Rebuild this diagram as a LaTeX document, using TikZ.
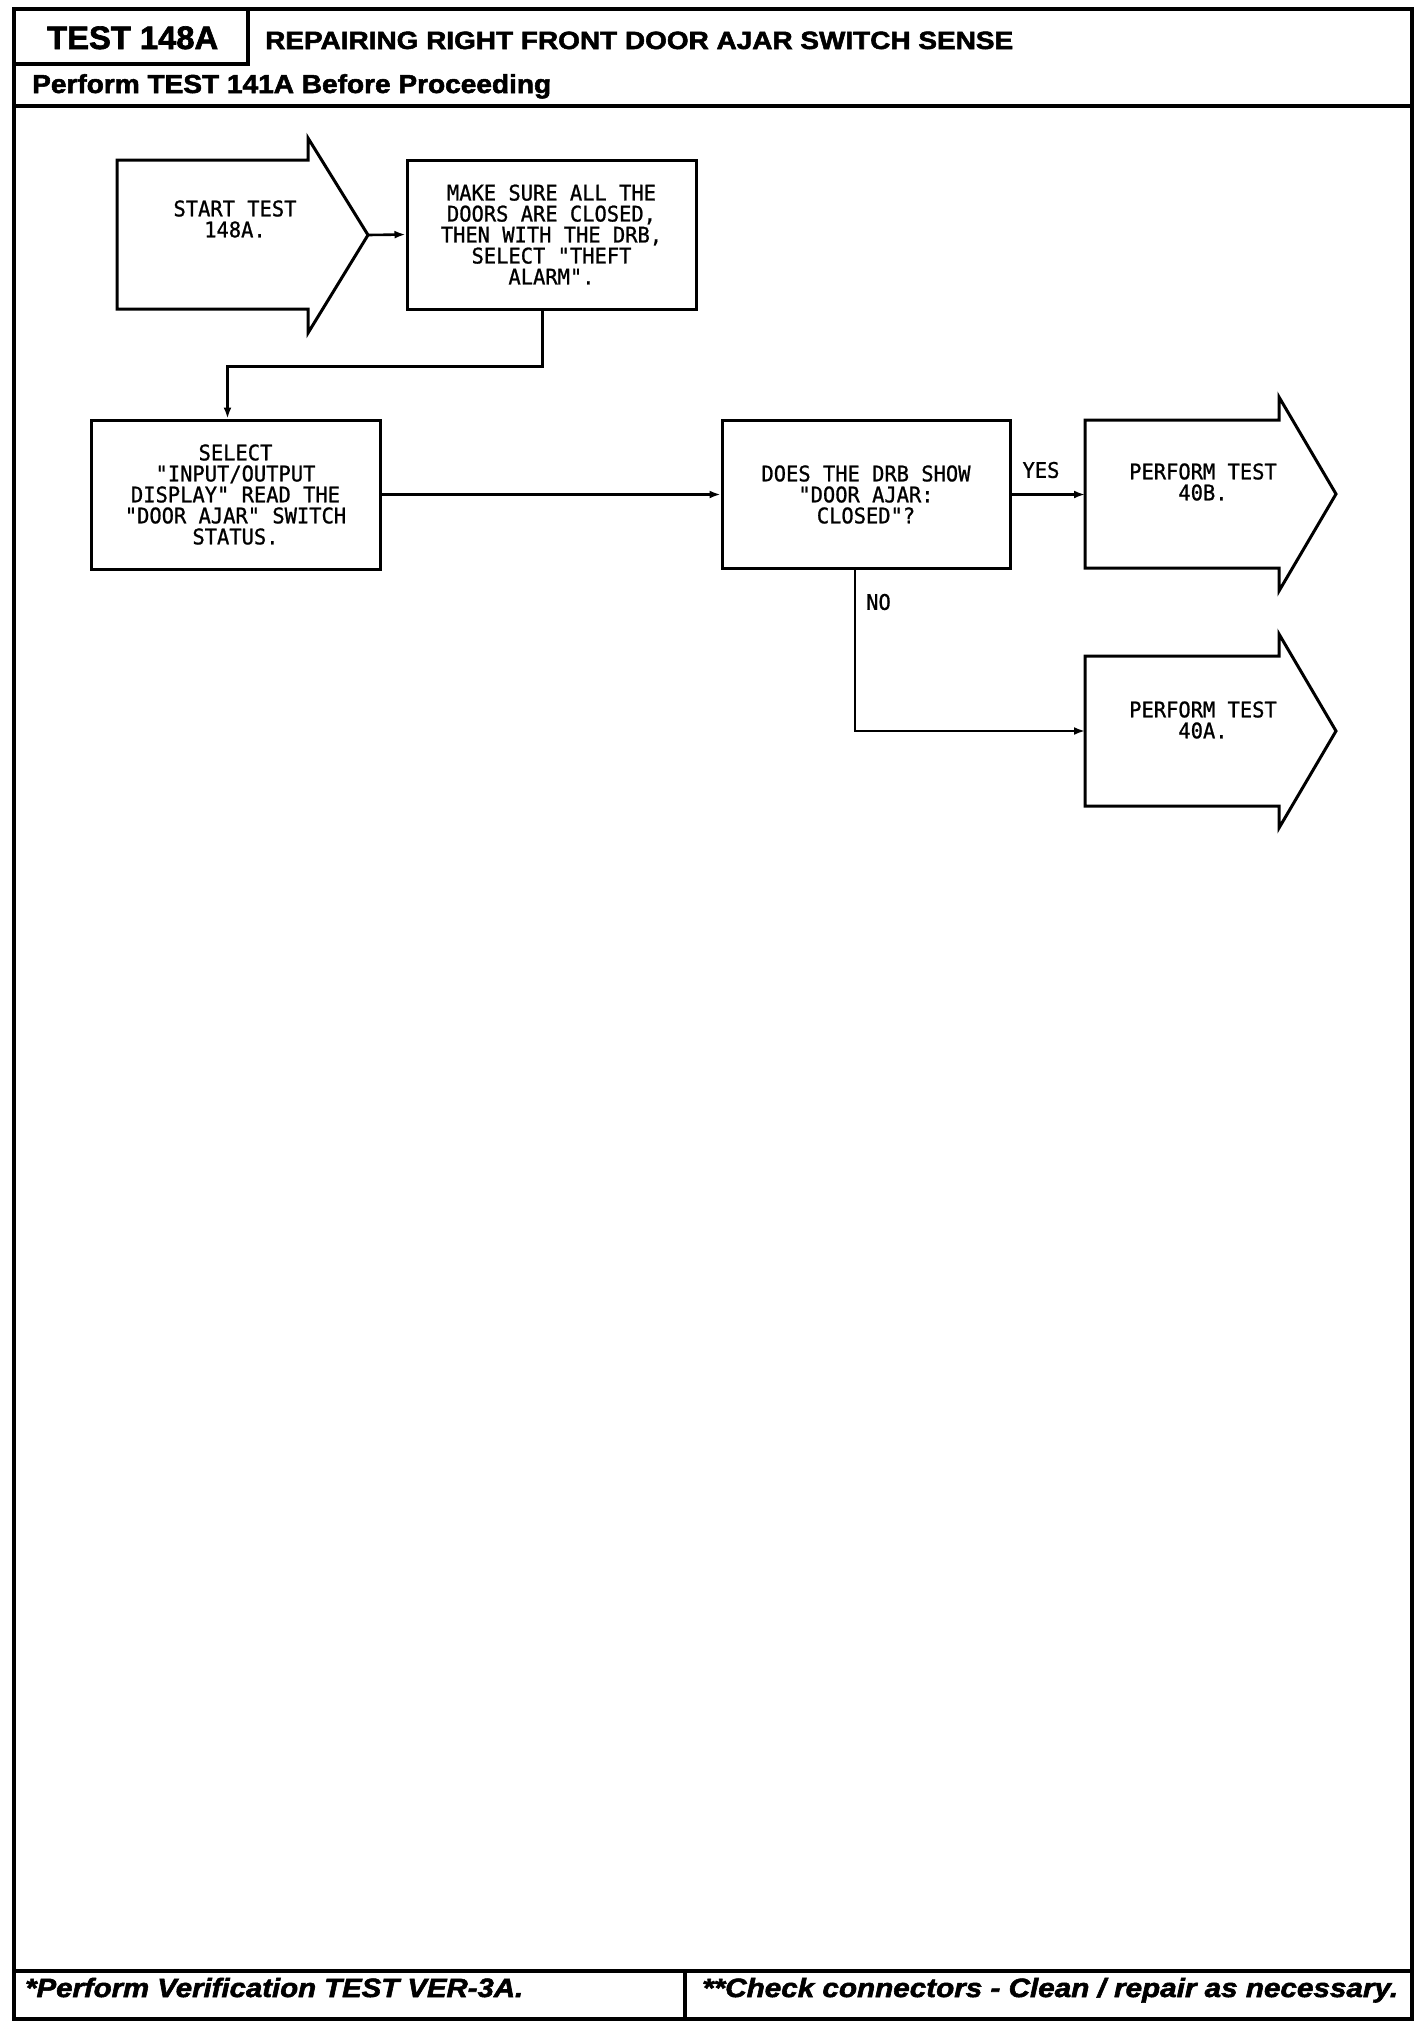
\documentclass[tikz,border=0pt]{standalone}
\usepackage{graphicx}
\usepackage{fontspec}
\setmainfont{Liberation Sans}
\newfontfamily\hdrfont{Liberation Sans}[BoldFeatures={FakeBold=2},BoldItalicFeatures={FakeBold=2}]
\newfontfamily\chartfont{DejaVu Sans Mono}[FakeBold=1,FakeStretch=0.95]
\usetikzlibrary{arrows.meta}
\newcommand\fitw[2]{\resizebox{#1}{\height}{#2}}
\tikzset{
  frame/.style={line width=3.5pt},
  boxline/.style={line width=3pt},
  stepbox/.style={draw, line width=3pt, rectangle, inner sep=0pt, font=\chartfont\fontsize{21.5}{21}\selectfont, align=center},
  chart/.style={inner sep=0pt, font=\chartfont\fontsize{21.5}{21}\selectfont, align=center},
  hdr/.style={inner sep=0pt, anchor=base west},
  conn/.style={line width=2.6pt, -{Latex[length=11pt,width=8pt]}},
}
\begin{document}
\begin{tikzpicture}[x=1pt,y=-1pt]
\useasboundingbox (0,0) rectangle (1424,2030);
% outer frame and header / footer rules
\draw[frame] (14,9) rectangle (1412,2019);
\draw[frame] (14,64) -- (248,64) -- (248,9);
\draw[frame] (14,106) -- (1412,106);
\draw[frame] (14,1971) -- (1412,1971);
\draw[frame] (685,1971) -- (685,2019);
% header texts
\node[hdr] (testid) at (47,49) {\fitw{171pt}{\hdrfont\bfseries\fontsize{32.5}{36}\selectfont TEST 148A}};
\node[hdr] (title) at (265,49) {\fitw{748pt}{\hdrfont\bfseries\fontsize{25}{28}\selectfont REPAIRING RIGHT FRONT DOOR AJAR SWITCH SENSE}};
\node[hdr] (pre) at (32,93) {\fitw{519pt}{\hdrfont\bfseries\fontsize{26}{28}\selectfont Perform TEST 141A Before Proceeding}};
% footer texts
\node[hdr] (foot1) at (25,1997) {\fitw{498pt}{\hdrfont\bfseries\itshape\fontsize{26.5}{29}\selectfont *Perform Verification TEST VER-3A.}};
\node[hdr] (foot2) at (702,1997) {\fitw{696pt}{\hdrfont\bfseries\itshape\fontsize{26.5}{29}\selectfont **Check connectors - Clean / repair as necessary.}};
% start arrow
\draw[boxline, line join=miter] (117,160) -- (308,160) -- (308,138) -- (368,235) -- (308,333) -- (308,309) -- (117,309) -- cycle;
\node[chart] (start) at (235,219) {START TEST\\148A.};
\coordinate (starttip) at (368,235);
% boxes
\node[stepbox, minimum width=289pt, minimum height=149pt] (b2) at (551.5,234.5) {MAKE SURE ALL THE\\DOORS ARE CLOSED,\\THEN WITH THE DRB,\\SELECT "THEFT\\ALARM".};
\node[stepbox, minimum width=289pt, minimum height=149pt] (b3) at (235.5,494.5) {SELECT\\"INPUT/OUTPUT\\DISPLAY" READ THE\\"DOOR AJAR" SWITCH\\STATUS.};
\node[stepbox, minimum width=288pt, minimum height=148pt] (b4) at (866,494.5) {DOES THE DRB SHOW\\"DOOR AJAR:\\CLOSED"?};
% result arrows
\draw[boxline, line join=miter] (1085,420) -- (1279,420) -- (1279,397) -- (1336,494) -- (1279,591) -- (1279,568) -- (1085,568) -- cycle;
\node[chart] (r40b) at (1203,482) {PERFORM TEST\\40B.};
\coordinate (a5w) at (1085,494.5);
\draw[boxline, line join=miter] (1085,656) -- (1279,656) -- (1279,634) -- (1336,731) -- (1279,828) -- (1279,806) -- (1085,806) -- cycle;
\node[chart] (r40a) at (1203,720) {PERFORM TEST\\40A.};
\coordinate (a6w) at (1085,731);
% connectors
\draw[conn] (starttip) -- (b2.west);
\draw[conn] ([xshift=-9pt]b2.south) -- ++(0,56) -| ([xshift=-8pt]b3.north);
\draw[conn] (b3.east) -- (b4.west);
\draw[conn] (b4.east) -- (a5w);
\draw[conn] ([xshift=-11pt]b4.south) |- (a6w);
% labels
\node[chart] (yes) at (1041,470) {YES};
\node[chart, anchor=west] (no) at (866,602) {NO};
\end{tikzpicture}
\end{document}
